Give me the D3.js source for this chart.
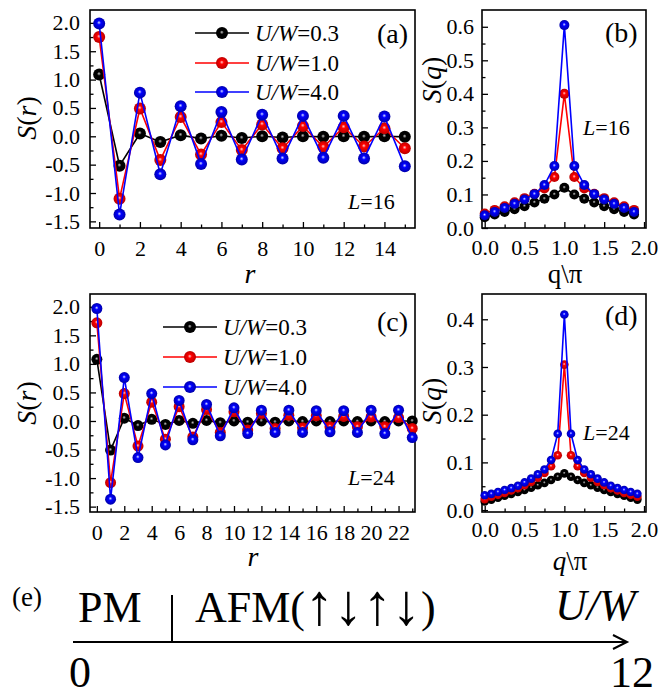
<!DOCTYPE html>
<html>
<head>
<meta charset="utf-8">
<script src="https://cdn.jsdelivr.net/npm/d3@7"></script>
<style>
  body { margin: 0; background: #fff; }
  text { font-family: "Liberation Serif", "Times New Roman", serif; fill: #000; }
</style>
</head>
<body>
<div id="chart"></div>
<script>
// ---- data ----
var seriesNames = ["0.3", "1.0", "4.0"];
var seriesColors = ["#000000", "#ff0000", "#0000ff"];

// (a) S(r), L=16
var rA = [0, 1, 2, 3, 4, 5, 6, 7, 8, 9, 10, 11, 12, 13, 14, 15];
var srA03 = [1.09, -0.52, 0.05, -0.10, 0.02, -0.04, 0.01, -0.03, 0.00, -0.02, 0.00, -0.01, 0.00, -0.01, 0.00, -0.01];
var srA10 = [1.75, -1.10, 0.49, -0.42, 0.34, -0.32, 0.25, -0.24, 0.21, -0.21, 0.18, -0.19, 0.16, -0.18, 0.14, -0.21];
var srA40 = [1.99, -1.38, 0.77, -0.67, 0.53, -0.49, 0.43, -0.41, 0.38, -0.39, 0.36, -0.38, 0.36, -0.39, 0.35, -0.53];

// (b) S(q), L=16
var qB = [0, 0.125, 0.25, 0.375, 0.5, 0.625, 0.75, 0.875, 1.0, 1.125, 1.25, 1.375, 1.5, 1.625, 1.75, 1.875];
var sqB03 = [0.032, 0.040, 0.048, 0.056, 0.065, 0.076, 0.087, 0.100, 0.120, 0.100, 0.087, 0.076, 0.065, 0.056, 0.048, 0.040];
var sqB10 = [0.043, 0.054, 0.065, 0.077, 0.089, 0.102, 0.118, 0.152, 0.400, 0.152, 0.118, 0.102, 0.089, 0.077, 0.065, 0.054];
var sqB40 = [0.038, 0.048, 0.060, 0.072, 0.085, 0.101, 0.128, 0.185, 0.605, 0.185, 0.128, 0.101, 0.085, 0.072, 0.060, 0.048];

// (c) S(r), L=24
var rC = [0, 1, 2, 3, 4, 5, 6, 7, 8, 9, 10, 11, 12, 13, 14, 15, 16, 17, 18, 19, 20, 21, 22, 23];
var srC03 = [1.08, -0.51, 0.05, -0.08, 0.03, -0.06, 0.01, -0.04, 0.01, -0.03, 0.00, -0.02, 0.00, -0.02, 0.00, -0.01, 0.00, -0.01, 0.00, -0.01, 0.00, -0.01, 0.00, 0.00];
var srC10 = [1.72, -1.08, 0.48, -0.44, 0.33, -0.32, 0.25, -0.28, 0.20, -0.20, 0.16, -0.16, 0.13, -0.13, 0.10, -0.12, 0.09, -0.10, 0.08, -0.10, 0.07, -0.10, 0.06, -0.13];
var srC40 = [1.97, -1.37, 0.76, -0.64, 0.48, -0.42, 0.36, -0.33, 0.29, -0.26, 0.23, -0.22, 0.19, -0.20, 0.19, -0.20, 0.18, -0.19, 0.18, -0.20, 0.19, -0.22, 0.19, -0.29];

// (d) S(q), L=24
var qD = [0, 0.0833, 0.1667, 0.25, 0.3333, 0.4167, 0.5, 0.5833, 0.6667, 0.75, 0.8333, 0.9167, 1.0, 1.0833, 1.1667, 1.25, 1.3333, 1.4167, 1.5, 1.5833, 1.6667, 1.75, 1.8333, 1.9167];
var sqD03 = [0.018, 0.022, 0.026, 0.030, 0.034, 0.038, 0.042, 0.047, 0.052, 0.057, 0.063, 0.070, 0.077, 0.070, 0.063, 0.057, 0.052, 0.047, 0.042, 0.038, 0.034, 0.030, 0.026, 0.022];
var sqD10 = [0.023, 0.028, 0.032, 0.036, 0.041, 0.046, 0.052, 0.059, 0.068, 0.078, 0.092, 0.115, 0.305, 0.115, 0.092, 0.078, 0.068, 0.059, 0.052, 0.046, 0.041, 0.036, 0.032, 0.028];
var sqD40 = [0.031, 0.034, 0.038, 0.042, 0.046, 0.051, 0.058, 0.066, 0.075, 0.085, 0.105, 0.160, 0.410, 0.160, 0.105, 0.085, 0.075, 0.066, 0.058, 0.051, 0.046, 0.042, 0.038, 0.034];

// (e) phase line
var phaseDomain = [0, 12];
var phaseBoundary = 2.0;

var svg = d3.select("#chart").append("svg")
  .attr("width", 668)
  .attr("height", 698)
  .attr("font-family", "Liberation Serif");

// sphere-like markers
var defs = svg.append("defs");
var hiColors = ["#c8c8c8", "#ffd0d0", "#d8e0ff"];
var darkColors = ["#000000", "#b00000", "#0000a0"];
seriesColors.forEach(function(c, i) {
  var g = defs.append("radialGradient")
    .attr("id", "ball" + i)
    .attr("cx", "50%").attr("cy", "50%").attr("r", "55%")
    .attr("fx", "48%").attr("fy", "42%");
  g.append("stop").attr("offset", "0%").attr("stop-color", hiColors[i]);
  g.append("stop").attr("offset", "30%").attr("stop-color", c);
  g.append("stop").attr("offset", "100%").attr("stop-color", darkColors[i]);
});

function panel(o) {
  var x = d3.scaleLinear().domain(o.xDomain).range([o.left, o.right]);
  var y = d3.scaleLinear().domain(o.yDomain).range([o.bottom, o.top]);
  var g = svg.append("g");

  // minor ticks
  g.append("g")
    .attr("transform", "translate(0," + o.bottom + ")")
    .call(d3.axisBottom(x).tickValues(o.xMinor).tickSize(-3.5).tickFormat(""))
    .call(function(s) { s.select(".domain").remove(); });
  g.append("g")
    .attr("transform", "translate(" + o.left + ",0)")
    .call(d3.axisLeft(y).tickValues(o.yMinor).tickSize(-3.5).tickFormat(""))
    .call(function(s) { s.select(".domain").remove(); });

  // major ticks with labels
  var xa = g.append("g")
    .attr("transform", "translate(0," + o.bottom + ")")
    .call(d3.axisBottom(x).tickValues(o.xTicks).tickSize(-6).tickPadding(o.xPad)
      .tickFormat(o.xFmt));
  var ya = g.append("g")
    .attr("transform", "translate(" + o.left + ",0)")
    .call(d3.axisLeft(y).tickValues(o.yTicks).tickSize(-6).tickPadding(o.yPad)
      .tickFormat(function(d) { return d.toFixed(1); }));
  [xa, ya].forEach(function(a) {
    a.select(".domain").remove();
    a.attr("font-family", "Liberation Serif").attr("font-size", 22);
    a.selectAll("text").style("font-size", "22px");
  });
  g.selectAll(".tick line").attr("stroke", "#000").attr("stroke-width", 1.3);

  // frame
  g.append("rect")
    .attr("x", o.left).attr("y", o.top)
    .attr("width", o.right - o.left).attr("height", o.bottom - o.top)
    .attr("fill", "none").attr("stroke", "#000").attr("stroke-width", 1.6);

  // series
  var line = d3.line()
    .x(function(d) { return x(d[0]); })
    .y(function(d) { return y(d[1]); });
  o.series.forEach(function(vals, i) {
    var pts = o.xs.map(function(v, k) { return [v, vals[k]]; });
    g.append("path").datum(pts)
      .attr("d", line)
      .attr("fill", "none")
      .attr("stroke", seriesColors[i])
      .attr("stroke-width", 1.6);
    g.selectAll(".dot" + i).data(pts).enter().append("circle")
      .attr("cx", function(d) { return x(d[0]); })
      .attr("cy", function(d) { return y(d[1]); })
      .attr("r", o.radius)
      .attr("fill", "url(#ball" + i + ")");
  });
  return g;
}

function sym(g, x, y, parts, size, extra) {
  var t = g.append("text").attr("x", x).attr("y", y).style("font-size", size + "px");
  if (extra) extra(t);
  parts.forEach(function(p) {
    t.append("tspan").text(p[0]).style("font-style", p[1] ? "italic" : "normal");
  });
  return t;
}

function legend(g, x0, ys) {
  seriesNames.forEach(function(n, i) {
    g.append("line")
      .attr("x1", x0).attr("x2", x0 + 54)
      .attr("y1", ys[i]).attr("y2", ys[i])
      .attr("stroke", seriesColors[i]).attr("stroke-width", 1.6);
    g.append("circle")
      .attr("cx", x0 + 27).attr("cy", ys[i]).attr("r", 6)
      .attr("fill", "url(#ball" + i + ")");
    sym(g, x0 + 60, ys[i] + 8, [["U/W", true], ["=" + n, false]], 23);
  });
}

var xFmtInt = function(d) { return d; };
var xFmtQ = function(d) { return d.toFixed(1); };

// (a)
var gA = panel({
  left: 90, right: 415, top: 10, bottom: 228,
  xDomain: [-0.45, 15.5], yDomain: [-1.617, 2.227],
  xTicks: [0, 2, 4, 6, 8, 10, 12, 14], xMinor: [1, 3, 5, 7, 9, 11, 13, 15],
  yTicks: [-1.5, -1.0, -0.5, 0.0, 0.5, 1.0, 1.5, 2.0], yMinor: [-1.25, -0.75, -0.25, 0.25, 0.75, 1.25, 1.75],
  xPad: 12, yPad: 10, xFmt: xFmtInt,
  xs: rA, series: [srA03, srA10, srA40], radius: 6
});
legend(gA, 195, [33, 63, 92]);
gA.append("text").attr("x", 377).attr("y", 43).style("font-size", "28px").text("(a)");
sym(gA, 348, 209, [["L", true], ["=16", false]], 22);
sym(gA, 0, 0, [["S", true], ["(", false], ["r", true], [")", false]], 28, function(t) {
  t.attr("transform", "translate(36,118) rotate(-90)").attr("text-anchor", "middle");
});
sym(gA, 250, 283, [["r", true]], 28, function(t) { t.attr("text-anchor", "middle"); });

// (b)
var gB = panel({
  left: 482, right: 646, top: 10, bottom: 228,
  xDomain: [-0.034, 2.025], yDomain: [0, 0.65],
  xTicks: [0, 0.5, 1.0, 1.5, 2.0], xMinor: [0.25, 0.75, 1.25, 1.75],
  yTicks: [0, 0.1, 0.2, 0.3, 0.4, 0.5, 0.6], yMinor: [0.05, 0.15, 0.25, 0.35, 0.45, 0.55],
  xPad: 11, yPad: 8, xFmt: xFmtQ,
  xs: qB, series: [sqB03, sqB10, sqB40], radius: 5
});
gB.append("text").attr("x", 605).attr("y", 42).style("font-size", "28px").text("(b)");
sym(gB, 583, 135, [["L", true], ["=16", false]], 22);
sym(gB, 0, 0, [["S", true], ["(", false], ["q", true], [")", false]], 28, function(t) {
  t.attr("transform", "translate(441,80) rotate(-90)").attr("text-anchor", "middle");
});
sym(gB, 565, 283, [["q\\π", false]], 27, function(t) { t.attr("text-anchor", "middle"); });

// (c)
var gC = panel({
  left: 90, right: 415, top: 294, bottom: 512,
  xDomain: [-0.5, 23.2], yDomain: [-1.594, 2.224],
  xTicks: [0, 2, 4, 6, 8, 10, 12, 14, 16, 18, 20, 22], xMinor: [1, 3, 5, 7, 9, 11, 13, 15, 17, 19, 21, 23],
  yTicks: [-1.5, -1.0, -0.5, 0.0, 0.5, 1.0, 1.5, 2.0], yMinor: [-1.25, -0.75, -0.25, 0.25, 0.75, 1.25, 1.75],
  xPad: 12, yPad: 10, xFmt: xFmtInt,
  xs: rC, series: [srC03, srC10, srC40], radius: 5.5
});
legend(gC, 163, [327, 357, 387]);
gC.append("text").attr("x", 377).attr("y", 331).style("font-size", "28px").text("(c)");
sym(gC, 348, 485, [["L", true], ["=24", false]], 22);
sym(gC, 0, 0, [["S", true], ["(", false], ["r", true], [")", false]], 28, function(t) {
  t.attr("transform", "translate(36,403) rotate(-90)").attr("text-anchor", "middle");
});
sym(gC, 253, 566, [["r", true]], 28, function(t) { t.attr("text-anchor", "middle"); });

// (d)
var gD = panel({
  left: 482, right: 646, top: 294, bottom: 512,
  xDomain: [-0.034, 2.025], yDomain: [-0.004, 0.453],
  xTicks: [0, 0.5, 1.0, 1.5, 2.0], xMinor: [0.25, 0.75, 1.25, 1.75],
  yTicks: [0, 0.1, 0.2, 0.3, 0.4], yMinor: [0.05, 0.15, 0.25, 0.35],
  xPad: 9, yPad: 8, xFmt: xFmtQ,
  xs: qD, series: [sqD03, sqD10, sqD40], radius: 4.3
});
gD.append("text").attr("x", 605).attr("y", 325).style("font-size", "28px").text("(d)");
sym(gD, 583, 440, [["L", true], ["=24", false]], 22);
sym(gD, 0, 0, [["S", true], ["(", false], ["q", true], [")", false]], 28, function(t) {
  t.attr("transform", "translate(441,401) rotate(-90)").attr("text-anchor", "middle");
});
sym(gD, 570, 570, [["q", true], ["\\π", false]], 27, function(t) { t.attr("text-anchor", "middle"); });

// (e) phase diagram
var gE = svg.append("g");
var px = d3.scaleLinear().domain(phaseDomain).range([80, 632]);
gE.append("line")
  .attr("x1", 73).attr("x2", 627).attr("y1", 642).attr("y2", 642)
  .attr("stroke", "#000").attr("stroke-width", 2);
gE.append("path")
  .attr("d", "M613,635 L627,642 L613,649")
  .attr("fill", "none").attr("stroke", "#000").attr("stroke-width", 2);
gE.append("line")
  .attr("x1", px(phaseBoundary)).attr("x2", px(phaseBoundary))
  .attr("y1", 595).attr("y2", 642)
  .attr("stroke", "#000").attr("stroke-width", 2);
gE.append("text").attr("x", 12).attr("y", 606).style("font-size", "27px").text("(e)");
gE.append("text").attr("x", 78).attr("y", 622).style("font-size", "44px").text("PM");
var afm = gE.append("text").attr("x", 195).attr("y", 622).style("font-size", "44px");
afm.append("tspan").text("AFM(");
afm.append("tspan").style("font-size", "58px").attr("dy", 2).text("↑↓↑↓");
afm.append("tspan").attr("dy", -2).text(")");
gE.append("text").attr("x", 555).attr("y", 620).style("font-size", "44px")
  .style("font-style", "italic").text("U/W");
gE.selectAll(".endlab").data(phaseDomain).enter().append("text")
  .attr("x", function(d) { return px(d); })
  .attr("y", 687)
  .attr("text-anchor", "middle")
  .style("font-size", "44px")
  .text(function(d) { return d; });
</script>
</body>
</html>
